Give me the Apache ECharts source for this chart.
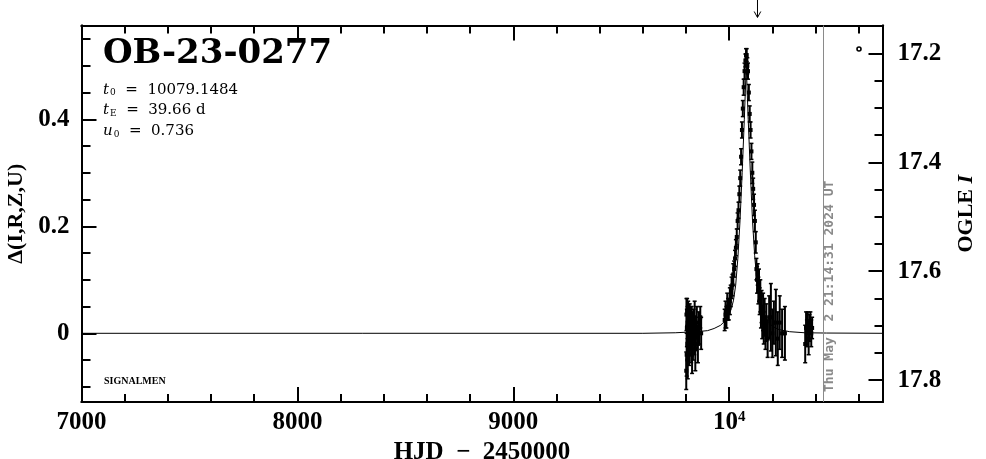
<!DOCTYPE html>
<html><head><meta charset="utf-8">
<script src="https://cdn.jsdelivr.net/npm/echarts@6/dist/echarts.min.js"></script>
<style>html,body{margin:0;padding:0;background:#fff}#c{width:986px;height:459px}</style>
</head><body><div id="c"></div>
<script>
// ---------- data ----------
const eventName = 'OB-23-0277';
const paramT0 = '10079.1484';
const paramTE = '39.66 d';
const paramU0 = '0.736';
const stampText = 'Thu May  2 21:14:31 2024 UT';
const stampT = 10434;      // HJD-2450000 of the time stamp line
const arrowT = 10131;      // arrow marker on top

const obsT = [
 9801,9802,9803,9804,9805,9806,9807,9808,9809,9810,9811,9812,9814,9815,9817,9818,9820,9822,9824,9826,9828,9830,9832,9835,9838,9840,9843,9846,9850,9855,9860,9866,9870,
 9979,9983,9987,9991,9995,9998,10003,10007,10011,10015,10019,10023,10027,10031,10035,10039,10043,10047,10051,10055,10059,10063,10067,10071,10075,10078,
 10081,10084,10087,10091,10095,10099,10103,10107,10111,10115,10119,10123,
 10126,10129,10132,10135,10138,10141,10144,10147,10150,10153,10157,10160,10164,10168,10172,10178,10185,10193,10200,10207,10216,10225,10234,10245,10258,
 10352,10356,10360,10364,10368,10372,10376,10380,10384
];
const obsDelta = [
 -0.07,0.035,-0.04,0.01,0.04,-0.02,0.02,-0.05,0.00,0.03,-0.01,0.02,-0.03,0.01,0.03,-0.01,0.02,0.00,-0.02,0.02,-0.04,0.01,-0.02,0.02,-0.01,0.03,-0.03,0.00,0.02,-0.02,0.01,0.03,0.00,
 0.025,0.035,0.03,0.05,0.045,0.045,0.06,0.07,0.085,0.09,0.11,0.12,0.14,0.16,0.18,0.21,0.23,0.26,0.29,0.33,0.38,0.42,0.46,0.49,0.51,0.52,
 0.52,0.50,0.49,0.45,0.41,0.38,0.34,0.30,0.27,0.24,0.21,0.17,
 0.12,0.10,0.11,0.08,0.09,0.06,0.07,0.04,0.05,0.02,0.04,0.01,0.03,0.00,0.02,-0.01,0.03,0.03,0.00,0.02,0.02,-0.01,0.02,0.00,0.00,
 -0.02,0.01,0.00,0.02,-0.01,0.01,0.02,0.00,0.01
];
const obsErr = [
 0.035,0.03,0.04,0.035,0.025,0.03,0.03,0.035,0.03,0.03,0.03,0.025,0.03,0.03,0.025,0.03,0.03,0.03,0.035,0.03,0.035,0.03,0.03,0.025,0.03,0.03,0.04,0.03,0.03,0.035,0.03,0.02,0.03,
 0.02,0.025,0.02,0.025,0.02,0.02,0.025,0.02,0.02,0.02,0.02,0.015,0.015,0.015,0.015,0.015,0.015,0.015,0.015,0.015,0.015,0.015,0.015,0.015,0.012,0.012,
 0.012,0.015,0.015,0.015,0.015,0.015,0.015,0.02,0.02,0.02,0.02,0.02,
 0.02,0.025,0.02,0.025,0.03,0.025,0.03,0.03,0.03,0.03,0.035,0.03,0.035,0.03,0.035,0.035,0.04,0.063,0.045,0.04,0.062,0.05,0.05,0.045,0.05,
 0.035,0.03,0.025,0.02,0.03,0.025,0.02,0.025,0.02
];

const modelT = [7000,9600,9750,9850,9900,9930,9960,9980,10000,10010,10020,10030,10040,10050,10060,10070,10079,10088,10098,10108,10118,10128,10138,10148,10160,10180,10200,10230,10280,10350,10450,10710];
const modelDelta = [0,0,0.001,0.003,0.005,0.009,0.015,0.023,0.036,0.046,0.062,0.09,0.14,0.21,0.30,0.40,0.50,0.40,0.30,0.21,0.145,0.10,0.072,0.052,0.037,0.022,0.013,0.007,0.003,0.001,0.0005,0];

const xMajorTicks = [7000,8000,9000,10000];
const xMinorTicks = [7200,7400,7600,7800,8200,8400,8600,8800,9200,9400,9600,9800,10200,10400,10600];
const yMajorTicks = [0,0.2,0.4];
const yMinorTicks = [-0.1,-0.05,0.05,0.1,0.15,0.25,0.3,0.35,0.45,0.5,0.55];
const magMajorTicks = [17.2,17.4,17.6,17.8];
const magMinorTicks = [17.25,17.3,17.35,17.45,17.5,17.55,17.65,17.7,17.75];

// ---------- chart ----------
const X_MIN = 7000, X_MAX = 10710;
const Y_MIN = -0.1284, Y_MAX = 0.5753;
const M_MIN = 17.149, M_MAX = 17.840;
const gridRect = {left: 81.5, top: 25.5, width: 801, height: 376.5, containLabel: false, outerBoundsMode: 'none'};
const tickFont = {fontFamily: 'Liberation Serif', fontWeight: 'bold', fontSize: 25, color: '#000'};
const lineS = {show: true, onZero: false, lineStyle: {color: '#000', width: 2}};

function xAx(grid, pos, ticks, len, labels) {
  return {
    type: 'value', gridIndex: grid, position: pos, min: X_MIN, max: X_MAX,
    axisLine: lineS, splitLine: {show: false},
    axisTick: {show: true, inside: true, length: len, customValues: ticks, lineStyle: {color: '#000', width: 2}},
    axisLabel: labels ? Object.assign({show: true, margin: 8, customValues: ticks,
      formatter: v => v === 10000 ? '{n|10}{s|4}' : String(v),
      rich: {n: tickFont, s: Object.assign({}, tickFont, {fontSize: 15, verticalAlign: 'top', padding: [0,0,10,0]})}
    }, tickFont) : {show: false}
  };
}
function yAx(grid, pos, min, max, ticks, len, labels, inverse, fmt) {
  return {
    type: 'value', gridIndex: grid, position: pos, min: min, max: max, inverse: !!inverse,
    axisLine: lineS, splitLine: {show: false},
    axisTick: {show: true, inside: true, length: len, customValues: ticks, lineStyle: {color: '#000', width: 2}},
    axisLabel: labels ? Object.assign({show: true, margin: pos === 'left' ? 12 : 15, customValues: ticks, formatter: fmt}, tickFont) : {show: false}
  };
}

const chart = echarts.init(document.getElementById('c'), null, {renderer: 'canvas'});
const option = {
  animation: false,
  backgroundColor: '#fff',
  grid: [Object.assign({}, gridRect), Object.assign({}, gridRect)],
  xAxis: [
    Object.assign(xAx(0, 'bottom', xMajorTicks, 15, true), {
      name: 'HJD  \u2212  2450000', nameLocation: 'middle', nameGap: 33,
      nameTextStyle: {fontFamily: 'Liberation Serif', fontWeight: 'bold', fontSize: 25, color: '#000'}
    }),
    xAx(0, 'top', xMajorTicks, 15, false),
    xAx(1, 'bottom', xMinorTicks, 8, false),
    xAx(1, 'top', xMinorTicks, 8, false)
  ],
  yAxis: [
    Object.assign(yAx(0, 'left', Y_MIN, Y_MAX, yMajorTicks, 15, true, false, v => String(v)), {
      name: '\u0394(I,R,Z,U)', nameLocation: 'middle', nameGap: 54, nameRotate: 90,
      nameTextStyle: {fontFamily: 'Liberation Serif', fontWeight: 'bold', fontSize: 22, color: '#000'}
    }),
    Object.assign(yAx(0, 'right', M_MIN, M_MAX, magMajorTicks, 14, true, true, v => v.toFixed(1)), {
      name: '{a|OGLE }{b|I}', nameLocation: 'middle', nameGap: 73, nameRotate: 90,
      nameTextStyle: {rich: {
        a: {fontFamily: 'Liberation Serif', fontWeight: 'bold', fontSize: 22, color: '#000'},
        b: {fontFamily: 'Liberation Serif', fontWeight: 'bold', fontStyle: 'italic', fontSize: 22, color: '#000'}
      }}
    }),
    yAx(1, 'left', Y_MIN, Y_MAX, yMinorTicks, 9, false),
    yAx(1, 'right', M_MIN, M_MAX, magMinorTicks, 8, false, true)
  ],
  series: [
    {
      type: 'line', xAxisIndex: 0, yAxisIndex: 0, showSymbol: false, symbol: 'none',
      data: modelT.map((t, i) => [t, modelDelta[i]]),
      lineStyle: {color: '#000', width: 1}, z: 2, silent: true,
      markLine: {
        silent: true, symbol: 'none', label: {show: false},
        lineStyle: {color: '#8a8a8a', width: 1, type: 'solid'},
        data: [{xAxis: stampT}]
      }
    },
    {
      type: 'custom', xAxisIndex: 0, yAxisIndex: 0, z: 3,
      encode: {x: 0, y: 1},
      data: obsT.map((t, i) => [t, obsDelta[i], obsErr[i]]),
      renderItem: function (params, api) {
        const t = api.value(0), d = api.value(1), e = api.value(2);
        const p = api.coord([t, d]);
        const hi = api.coord([t, d + e]);
        const lo = api.coord([t, d - e]);
        const c = 2;
        return {type: 'group', children: [
          {type: 'line', shape: {x1: p[0], y1: hi[1], x2: p[0], y2: lo[1]}, style: {stroke: '#000', lineWidth: 2}},
          {type: 'line', shape: {x1: p[0] - c, y1: hi[1], x2: p[0] + c, y2: hi[1]}, style: {stroke: '#000', lineWidth: 1.5}},
          {type: 'line', shape: {x1: p[0] - c, y1: lo[1], x2: p[0] + c, y2: lo[1]}, style: {stroke: '#000', lineWidth: 1.5}},
          {type: 'rect', shape: {x: p[0] - 2, y: p[1] - 2, width: 4, height: 4}, style: {fill: '#000'}}
        ]};
      }
    }
  ]
};
chart.setOption(option);

const stampX = chart.convertToPixel({xAxisIndex: 0}, stampT);
const arrowX = chart.convertToPixel({xAxisIndex: 0}, arrowT);
const pRich = {
  i: {fontFamily: 'DejaVu Serif', fontStyle: 'italic', fontSize: 15, color: '#000'},
  s: {fontFamily: 'DejaVu Serif', fontSize: 9, color: '#000', verticalAlign: 'bottom', padding: [6, 0, 0, 1]},
  n: {fontFamily: 'DejaVu Serif', fontSize: 15, color: '#000'}
};
chart.setOption({
  graphic: [
    {type: 'text', x: 103, y: 54, style: {text: eventName, fontFamily: 'DejaVu Serif', fontWeight: 'bold', fontSize: 34, fill: '#000', verticalAlign: 'middle'}},
    {type: 'text', x: 103, y: 90, style: {text: '{i|t}{s|0}{n|  =  ' + paramT0 + '}', rich: pRich, verticalAlign: 'middle'}},
    {type: 'text', x: 103, y: 110.5, style: {text: '{i|t}{s|E}{n|  =  ' + paramTE + '}', rich: pRich, verticalAlign: 'middle'}},
    {type: 'text', x: 103, y: 131.5, style: {text: '{i|u}{s|0}{n|  =  ' + paramU0 + '}', rich: pRich, verticalAlign: 'middle'}},
    {type: 'text', x: 104, y: 381.5, style: {text: 'SIGNALMEN', fontFamily: 'Liberation Serif', fontWeight: 'bold', fontSize: 10, fill: '#000', verticalAlign: 'middle'}},
    {type: 'text', x: stampX + 7, y: 392, rotation: Math.PI / 2,
      style: {text: stampText, fontFamily: 'DejaVu Sans Mono', fontWeight: 'bold', fontSize: 13, fill: '#8a8a8a', align: 'left', verticalAlign: 'middle'}},
    {type: 'circle', shape: {cx: 859, cy: 49, r: 2}, style: {fill: '#fff', stroke: '#000', lineWidth: 1.6}},
    {type: 'polyline', shape: {points: [[arrowX, 0], [arrowX, 17]]}, style: {stroke: '#000', lineWidth: 1}},
    {type: 'polyline', shape: {points: [[arrowX - 3.3, 11.5], [arrowX, 17.5], [arrowX + 3.3, 11.5]]}, style: {stroke: '#000', lineWidth: 1, fill: null}}
  ]
});
</script>
</body></html>
